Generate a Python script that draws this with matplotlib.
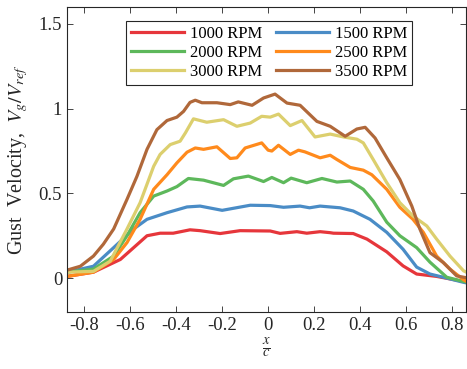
import numpy as np
import matplotlib
matplotlib.use("Agg")
import matplotlib.pyplot as plt

# x/c positions, one list per curve
x_1000 = [-0.875, -0.76, -0.643, -0.527, -0.47, -0.413, -0.34, -0.296, -0.209, -0.122, 0.009, 0.052,
          0.125, 0.168, 0.226, 0.27, 0.284, 0.37, 0.43, 0.516, 0.587, 0.646, 0.733, 0.835, 0.87]
v_1000 = [0.01, 0.035, 0.11, 0.25, 0.265, 0.265, 0.285, 0.28, 0.263, 0.28, 0.278, 0.264,
          0.274, 0.265, 0.274, 0.268, 0.265, 0.263, 0.23, 0.155, 0.072, 0.024, 0.01, -0.016, -0.02]

x_1500 = [-0.875, -0.76, -0.672, -0.585, -0.527, -0.44, -0.353, -0.296, -0.2, -0.078, 0.009, 0.067,
          0.139, 0.18, 0.226, 0.313, 0.37, 0.443, 0.516, 0.587, 0.646, 0.704, 0.777, 0.85, 0.87]
v_1500 = [0.035, 0.07, 0.18, 0.29, 0.347, 0.386, 0.42, 0.425, 0.40, 0.43, 0.428, 0.418,
          0.425, 0.415, 0.425, 0.415, 0.396, 0.347, 0.27, 0.17, 0.065, 0.024, 0.0, -0.025, -0.03]

x_2000 = [-0.875, -0.76, -0.672, -0.614, -0.557, -0.498, -0.44, -0.397, -0.347, -0.281, -0.194, -0.151,
          -0.086, -0.02, 0.016, 0.067, 0.1, 0.168, 0.234, 0.299, 0.357, 0.414, 0.457, 0.516, 0.573,
          0.646, 0.704, 0.777, 0.85, 0.87]
v_2000 = [0.035, 0.053, 0.13, 0.25, 0.386, 0.484, 0.514, 0.54, 0.588, 0.578, 0.547, 0.586,
          0.602, 0.57, 0.594, 0.563, 0.59, 0.563, 0.588, 0.567, 0.573, 0.524, 0.455, 0.33, 0.25,
          0.18, 0.094, 0.005, -0.02, -0.025]

x_2500 = [-0.875, -0.76, -0.672, -0.614, -0.557, -0.498, -0.44, -0.397, -0.353, -0.317, -0.281, -0.223,
          -0.165, -0.136, -0.1, -0.028, 0.0, 0.016, 0.045, 0.096, 0.132, 0.16, 0.226, 0.27, 0.299,
          0.357, 0.414, 0.451, 0.516, 0.573, 0.63, 0.675, 0.733, 0.791, 0.85, 0.87]
v_2500 = [0.01, 0.035, 0.11, 0.21, 0.347, 0.524, 0.61, 0.68, 0.743, 0.768, 0.76, 0.775,
          0.706, 0.71, 0.768, 0.798, 0.755, 0.75, 0.784, 0.73, 0.755, 0.745, 0.71, 0.725, 0.70,
          0.653, 0.637, 0.61, 0.524, 0.418, 0.347, 0.27, 0.13, 0.053, -0.01, -0.025]

x_3000 = [-0.875, -0.76, -0.687, -0.614, -0.557, -0.498, -0.47, -0.426, -0.383, -0.36, -0.325, -0.267,
          -0.194, -0.136, -0.078, -0.028, 0.009, 0.045, 0.096, 0.147, 0.204, 0.27, 0.328, 0.386, 0.414,
          0.457, 0.516, 0.573, 0.63, 0.69, 0.733, 0.791, 0.85, 0.87]
v_3000 = [0.035, 0.04, 0.1, 0.29, 0.445, 0.66, 0.73, 0.788, 0.808, 0.857, 0.94, 0.92,
          0.935, 0.896, 0.915, 0.955, 0.95, 0.968, 0.9, 0.93, 0.833, 0.85, 0.833, 0.82, 0.798,
          0.70, 0.563, 0.445, 0.367, 0.308, 0.23, 0.13, 0.043, 0.03]

x_3500 = [-0.875, -0.817, -0.76, -0.717, -0.672, -0.614, -0.571, -0.527, -0.484, -0.44, -0.397, -0.368,
          -0.34, -0.317, -0.288, -0.223, -0.165, -0.13, -0.07, -0.02, 0.03, 0.082, 0.139, 0.212,
          0.27, 0.335, 0.386, 0.422, 0.465, 0.516, 0.573, 0.625, 0.66, 0.704, 0.762, 0.82, 0.87]
v_3500 = [0.047, 0.07, 0.13, 0.2, 0.29, 0.465, 0.6, 0.76, 0.876, 0.93, 0.95, 0.984,
          1.037, 1.05, 1.035, 1.035, 1.024, 1.04, 1.02, 1.063, 1.086, 1.033, 1.02, 0.925,
          0.896, 0.837, 0.88, 0.89, 0.827, 0.71, 0.582, 0.425, 0.29, 0.15, 0.092, 0.013, 0.0]

labels = ["1000 RPM", "1500 RPM", "2000 RPM", "2500 RPM", "3000 RPM", "3500 RPM"]
colors = ["#e6363b", "#4a8cc6", "#5db85b", "#ff8a1c", "#dccf6e", "#b0683a"]

plt.rcParams.update({
    "font.family": ["Liberation Serif", "DejaVu Serif"],
    "mathtext.fontset": "stix",
    "font.size": 11,
})

fig = plt.figure(figsize=(4.67, 3.69), dpi=100)
ax = fig.add_axes([0.1435, 0.1545, 0.855, 0.8265])

series = [(x_1000, v_1000), (x_1500, v_1500), (x_2000, v_2000),
          (x_2500, v_2500), (x_3000, v_3000), (x_3500, v_3500)]
lines = []
for (xs, vs), lab, col in zip(series, labels, colors):
    ln, = ax.plot(xs, vs, color=col, lw=2.3, label=lab, solid_joinstyle="round")
    lines.append(ln)

ax.set_xlim(-0.875, 0.862)
ax.set_ylim(-0.2, 1.6)
ax.set_xticks([-0.8, -0.6, -0.4, -0.2, 0, 0.2, 0.4, 0.6, 0.8])
ax.set_xticklabels(["-0.8", "-0.6", "-0.4", "-0.2", "0", "0.2", "0.4", "0.6", "0.8"])
ax.set_yticks([0, 0.5, 1, 1.5])
ax.set_yticklabels(["0", "0.5", "1", "1.5"])
ax.tick_params(direction="in", top=True, right=True, length=4, width=0.7,
               colors="#444444", labelcolor="#262626", labelsize=13.5)
for sp in ax.spines.values():
    sp.set_linewidth(0.8)
    sp.set_color("#262626")

ax.set_ylabel(r"Gust  Velocity,  $V_g/V_{ref}$", fontsize=14.5, color="#262626", labelpad=6)
ax.set_xlabel(r"$\frac{x}{c}$", fontsize=15, color="#262626", labelpad=1)

# row-wise legend order like the original
order = [0, 2, 4, 1, 3, 5]
leg = ax.legend([lines[i] for i in order], [labels[i] for i in order],
                ncol=2, loc="upper center", bbox_to_anchor=(0.506, 0.983),
                fontsize=12, handlelength=3.2, columnspacing=0.8, handletextpad=0.35,
                labelspacing=0.2, borderpad=0.3, fancybox=False, framealpha=1)
leg.get_frame().set_edgecolor("#262626")
leg.get_frame().set_linewidth(0.8)

fig.savefig("out.png", dpi=100)
